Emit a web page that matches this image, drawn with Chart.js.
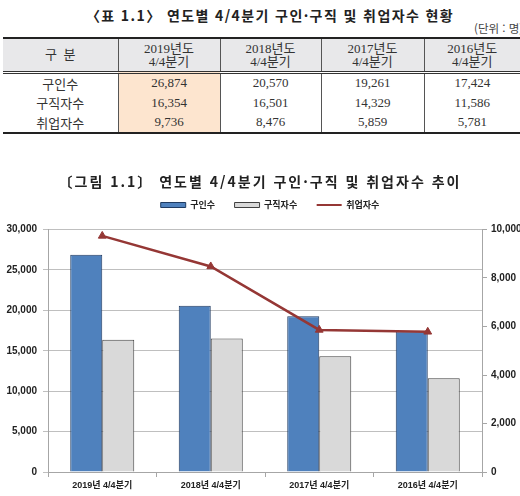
<!DOCTYPE html>
<html lang="ko">
<head>
<meta charset="UTF-8">
<title>연도별 4/4분기 구인·구직 및 취업자수</title>
<script src="https://cdn.jsdelivr.net/npm/chart.js"></script>
<style>
    html, body {
        margin: 0;
        padding: 0;
        width: 520px;
        height: 496px;
        overflow: hidden;
        background: #ffffff;
        font-family: 'Noto Sans CJK KR', sans-serif;
        color: #222;
    }
    .title {
        position: absolute;
        left: 0;
        width: 520px;
        text-align: center;
        font-weight: bold;
        font-size: 14px;
        white-space: nowrap;
        z-index: 2;
    }
    #unit {
        position: absolute;
        left: 474px;
        top: 20px;
        font-size: 11.5px;
        color: #444;
        white-space: nowrap;
    }
    #data-table {
        position: absolute;
        left: 3px;
        top: 37px;
        border-collapse: collapse;
        table-layout: fixed;
        font-family: 'Liberation Serif', 'Noto Sans CJK KR', serif;
        font-size: 13px;
        color: #333;
    }
    #data-table th, #data-table td {
        text-align: center;
        padding: 0;
        border-left: 1px solid #555;
    }
    #data-table th:first-child, #data-table td:first-child {
        border-left: none;
    }
    #data-table thead tr {
        background: #e8e8ea;
        border-top: 2px solid #222;
        border-bottom: 3px double #333;
        height: 34px;
    }
    #data-table thead th {
        font-weight: normal;
        line-height: 13px;
    }
    #data-table tbody tr {
        height: 20px;
    }
    #data-table tbody tr:last-child {
        border-bottom: 2px solid #222;
    }
    #data-table .hl {
        background: #fde5cf;
    }
    #chart-box {
        position: absolute;
        left: 0;
        top: 181px;
        width: 540px;
        height: 315px;
    }
</style>
</head>
<body>
    <div class="title" style="top:5px; left:10px; letter-spacing:1.4px;">〈표 1.1〉 연도별 4/4분기 구인·구직 및 취업자수 현황</div>
    <div id="unit">(단위 : 명)</div>
    <table id="data-table">
        <colgroup>
            <col style="width:115px"><col style="width:102px"><col style="width:101px"><col style="width:103px"><col style="width:96px">
        </colgroup>
        <thead><tr id="head-row"></tr></thead>
        <tbody id="body-rows"></tbody>
    </table>

    <div class="title" style="top:171px; letter-spacing:2px;">〔그림 1.1〕 연도별 4/4분기 구인·구직 및 취업자수 추이</div>
    <div id="chart-box"><canvas id="chart"></canvas></div>

<script>
    // data
    const years = ['2019', '2018', '2017', '2016'];
    const categories = ['2019년 4/4분기', '2018년 4/4분기', '2017년 4/4분기', '2016년 4/4분기'];
    const seriesNames = ['구인수', '구직자수', '취업자수'];
    const jobOffers = [26874, 20570, 19261, 17424];
    const jobSeekers = [16354, 16501, 14329, 11586];
    const employed = [9736, 8476, 5859, 5781];

    // table
    const fmt = n => n.toLocaleString('en-US');
    const headRow = document.getElementById('head-row');
    headRow.innerHTML = '<th>구&nbsp; 분</th>' +
        years.map(y => `<th>${y}년도<br>4/4분기</th>`).join('');
    const tbody = document.getElementById('body-rows');
    [jobOffers, jobSeekers, employed].forEach((row, r) => {
        const tr = document.createElement('tr');
        tr.innerHTML = `<td>${seriesNames[r]}</td>` +
            row.map((v, i) => `<td class="${i === 0 ? 'hl' : ''}">${fmt(v)}</td>`).join('');
        tbody.appendChild(tr);
    });

    // extra space under the legend
    const legendGap = {
        id: 'legendGap',
        beforeLayout(chart) {
            const legend = chart.legend;
            if (!legend || legend._gapPatched) return;
            const fit = legend.fit;
            legend.fit = function () {
                fit.call(this);
                this.height += 10;
            };
            legend._gapPatched = true;
        }
    };

    // chart
    const tickFont = { family: "'Liberation Sans', 'Noto Sans CJK KR'", size: 10, weight: 'bold' };
    const axisGray = '#a6a6a6';

    new Chart(document.getElementById('chart'), {
        data: {
            labels: categories,
            datasets: [
                {
                    type: 'bar', label: seriesNames[0], data: jobOffers, yAxisID: 'y',
                    backgroundColor: '#4f81bd', borderColor: '#1f3a60', borderWidth: 1,
                    categoryPercentage: 0.59, barPercentage: 1, order: 1
                },
                {
                    type: 'bar', label: seriesNames[1], data: jobSeekers, yAxisID: 'y',
                    backgroundColor: '#d9d9d9', borderColor: '#404040', borderWidth: 1,
                    categoryPercentage: 0.59, barPercentage: 1, order: 1
                },
                {
                    type: 'line', label: seriesNames[2], data: employed, yAxisID: 'y2',
                    borderColor: '#953735', backgroundColor: '#953735', borderWidth: 2.5,
                    pointStyle: 'triangle', pointRadius: 4.5, pointBorderWidth: 1,
                    tension: 0, order: 0
                }
            ]
        },
        plugins: [legendGap],
        options: {
            responsive: true,
            maintainAspectRatio: false,
            animation: false,
            layout: { padding: 0 },
            plugins: {
                tooltip: { enabled: false },
                legend: {
                    position: 'top',
                    labels: {
                        usePointStyle: true,
                        pointStyleWidth: 25,
                        boxHeight: 5,
                        padding: 19.5,
                        color: '#222',
                        font: { family: "'Noto Sans CJK KR'", size: 9, weight: 'bold' },
                        generateLabels: chart => chart.data.datasets.map((ds, i) => ({
                            text: ds.label,
                            fillStyle: ds.backgroundColor,
                            strokeStyle: ds.borderColor,
                            lineWidth: ds.type === 'line' ? 2 : 1,
                            pointStyle: ds.type === 'line' ? 'line' : 'rect',
                            datasetIndex: i,
                            hidden: false,
                            fontColor: '#222'
                        }))
                    }
                }
            },
            scales: {
                x: {
                    offset: true,
                    grid: { offset: true, drawOnChartArea: false, drawTicks: true, tickLength: 5, color: axisGray },
                    border: { color: axisGray },
                    ticks: { font: { ...tickFont, size: 9 }, color: '#222', padding: 3, maxRotation: 0 },
                    afterFit: s => { s.height = 24; }
                },
                y: {
                    position: 'left',
                    min: 0, max: 30000,
                    ticks: { stepSize: 5000, font: tickFont, color: '#222', padding: 6,
                             callback: v => fmt(v) },
                    grid: { color: '#bfbfbf', tickLength: 5 },
                    border: { color: axisGray },
                    afterFit: s => { s.width = 48; }
                },
                y2: {
                    position: 'right',
                    min: 0, max: 10000,
                    ticks: { stepSize: 2000, font: tickFont, color: '#222', padding: 4,
                             callback: v => fmt(v) },
                    grid: { drawOnChartArea: false, color: axisGray, tickLength: 5 },
                    border: { color: axisGray },
                    afterFit: s => { s.width = 58; }
                }
            }
        }
    });
</script>
</body>
</html>
